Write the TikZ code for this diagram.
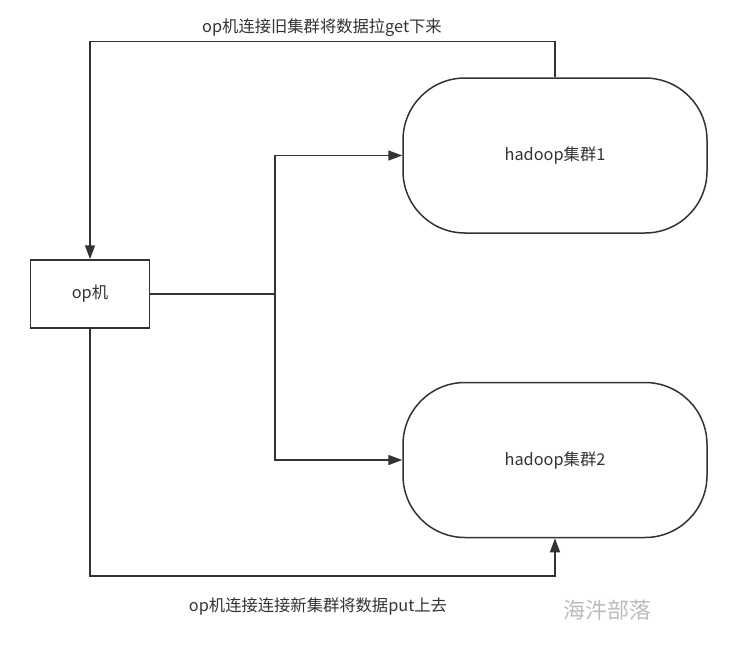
\documentclass[tikz,border=0pt]{standalone}
\usepackage{fontspec}
\setmainfont{Noto Sans CJK SC}
\usetikzlibrary{arrows.meta}
\definecolor{linegray}{HTML}{333333}
\definecolor{markgray}{HTML}{BBBBBB}
\tikzset{
  opbox/.style={draw=linegray, line width=1.5pt, minimum width=119pt, minimum height=68pt, text=linegray},
  cluster/.style={draw=linegray, line width=1.5pt, rounded corners=62pt, minimum width=304pt, minimum height=155pt, text=linegray},
  flow/.style={draw=linegray, line width=1.5pt, -{Triangle[length=14pt,width=10pt]}},
  plain/.style={draw=linegray, line width=1.5pt},
  note/.style={text=linegray, inner sep=0pt}
}
\begin{document}
\begin{tikzpicture}[x=1pt, y=-1pt, every node/.style={font=\fontsize{16.3}{19}\selectfont}]
  \useasboundingbox (0,0) rectangle (755,659);
  % 节点
  \node[opbox] (op) at (90,294) {op机};
  \node[cluster] (h1) at (555,155.5) {hadoop集群1};
  \node[cluster] (h2) at (555,460) {hadoop集群2};

  % 说明文字
  \node[note] (getlbl) at (322,28) {op机连接旧集群将数据拉get下来};
  \node[note] (putlbl) at (318,606) {op机连接连接新集群将数据put上去};
  \node[text=markgray, inner sep=0pt, font=\fontsize{22}{24}\selectfont] (mark) at (607,610) {海汼部落};

  % 从旧集群拉数据
  \draw[flow] (h1.north) -- ++(0,-36) -| (op.north);

  % op机分发到两个集群
  \coordinate (fork) at (275,294);
  \draw[plain] (op.east) -- (fork);
  \draw[flow] (fork) |- (h1.west);
  \draw[flow] (fork) |- (h2.west);

  % 推数据到新集群
  \draw[flow] (op.south) -- ++(0,247) -| (h2.south);
\end{tikzpicture}
\end{document}
